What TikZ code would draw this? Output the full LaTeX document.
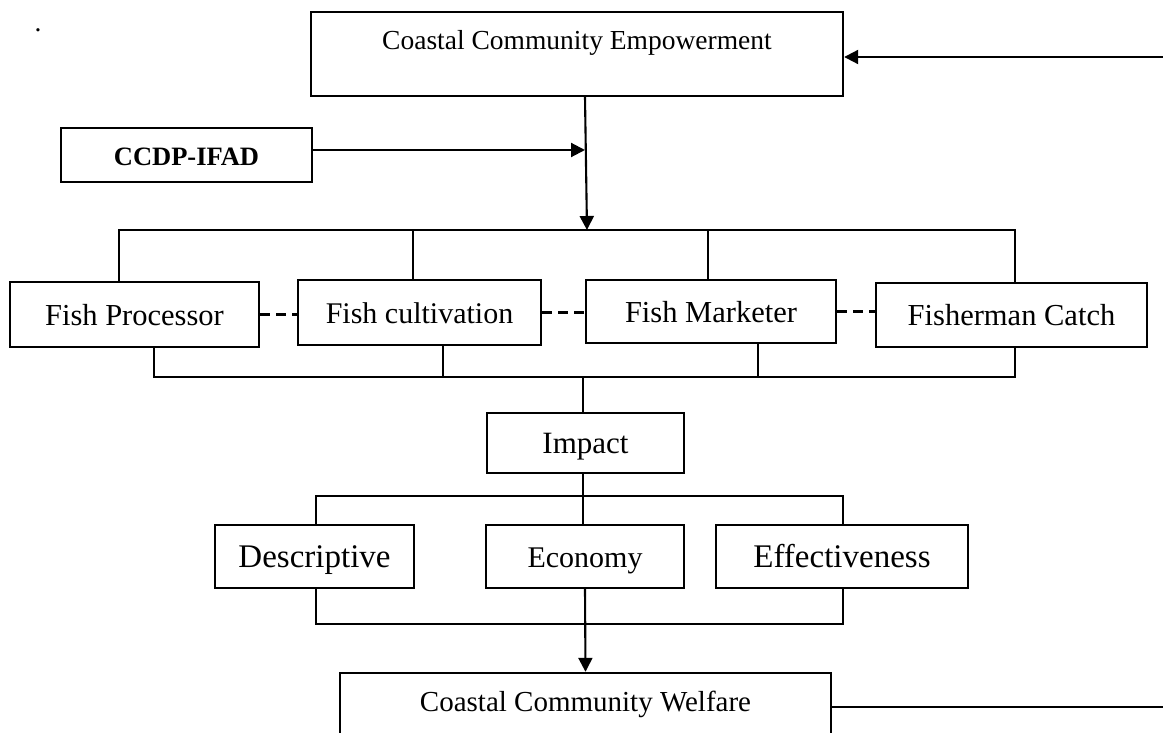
\documentclass[tikz,border=0pt]{standalone}
\usepackage{fontspec}
\setmainfont{Liberation Serif}
\usetikzlibrary{arrows.meta}

\begin{document}
\begin{tikzpicture}[x=1pt, y=-1pt,
		box/.style={draw, line width=2.4pt, inner sep=0pt, text height=21pt, text depth=0pt},
		topbox/.style={draw, line width=2.4pt, inner sep=0pt, text height=38pt, text depth=46pt},
		lbl/.style={font=\fontsize{#1}{#1}\selectfont},
		link/.style={line width=2.1pt},
		arr/.style={line width=2.1pt, -{Triangle[length=14pt, width=14pt]}},
		dots/.style={line width=2.1pt, dash pattern=on 10pt off 6pt}]
		\useasboundingbox (0,0) rectangle (1163,733);

		\node[lbl=27.5] (dot) at (38,30) {.};

		\node[topbox, lbl=27.5, minimum width=532pt] (emp) at (577,54) {Coastal Community Empowerment};
		\node[box, font=\bfseries\fontsize{26.5}{26.5}\selectfont, minimum width=251pt, minimum height=54pt] (ccdp) at (186.5,155) {CCDP-IFAD};

		\node[box, lbl=30.5, minimum width=249pt, minimum height=65pt] (fp) at (134.5,314.5) {Fish Processor};
		\node[box, lbl=30, minimum width=243pt, minimum height=65pt] (fc) at (419.5,312.5) {Fish cultivation};
		\node[box, lbl=30.5, minimum width=250pt, minimum height=63pt] (fm) at (711,311.5) {Fish Marketer};
		\node[box, lbl=30.5, minimum width=271pt, minimum height=64pt] (fcatch) at (1011.5,315) {Fisherman Catch};

		\node[box, lbl=31, minimum width=197pt, minimum height=60pt] (imp) at (585.5,443) {Impact};

		\node[box, lbl=33, minimum width=199pt, minimum height=63pt] (desc) at (314.5,556.5) {Descriptive};
		\node[box, lbl=30, minimum width=198pt, minimum height=63pt] (econ) at (585,556.5) {Economy};
		\node[box, lbl=33, minimum width=252pt, minimum height=63pt] (eff) at (842,556.5) {Effectiveness};

		\node[topbox, lbl=29, minimum width=491pt] (wel) at (585.5,715) {Coastal Community Welfare};

		% junctions and free ends
		\coordinate (fbin) at (1163,57);
		\coordinate (fbout) at (1163,707);
		\coordinate (join) at (585,150);
		\coordinate (split) at (587,230);
		\coordinate (tbl) at (119,230);
		\coordinate (tbr) at (1015,230);
		\coordinate (bbl) at (154,377);
		\coordinate (bbr) at (1015,377);
		\coordinate (hub) at (583,377);
		\coordinate (ibus) at (583,496);
		\coordinate (ibl) at (316,496);
		\coordinate (ibr) at (843,496);
		\coordinate (obl) at (316,624);
		\coordinate (obr) at (843,624);

		\draw[arr] (fbin) -- (emp.east |- fbin);
		\draw[arr] (ccdp.east |- join) -- (join);
		\draw[arr] (emp.south -| join) -- (split);

		% activities
		\draw[link] (fp.north -| tbl) -- (tbl) -- (tbr) -- (fcatch.north -| tbr);
		\draw[link] ([xshift=-6.5pt]fc.north) -- ([xshift=-6.5pt]fc.north |- tbl);
		\draw[link] ([xshift=-3pt]fm.north) -- ([xshift=-3pt]fm.north |- tbl);
		\draw[dots] (fp.east) -- (fp.east -| fc.west);
		\draw[dots] (fc.east) -- (fc.east -| fm.west);
		\draw[dots] (fm.east) -- (fm.east -| fcatch.west);
		\draw[link] (fp.south -| bbl) -- (bbl) -- (bbr) -- (fcatch.south -| bbr);
		\draw[link] ([xshift=23.5pt]fc.south) -- ([xshift=23.5pt]fc.south |- bbl);
		\draw[link] ([xshift=47pt]fm.south) -- ([xshift=47pt]fm.south |- bbl);

		% impact
		\draw[link] (hub) -- (imp.north -| hub);
		\draw[link] (imp.south -| ibus) -- (ibus);
		\draw[link] (desc.north -| ibl) -- (ibl) -- (ibr) -- (eff.north -| ibr);
		\draw[link] (ibus) -- (econ.north -| ibus);
		\draw[link] (desc.south -| obl) -- (obl) -- (obr) -- (eff.south -| obr);
		\draw[arr] (econ.south) -- (wel.north);
		\draw[link] (wel.east |- fbout) -- (fbout);
	\end{tikzpicture}
\end{document}
